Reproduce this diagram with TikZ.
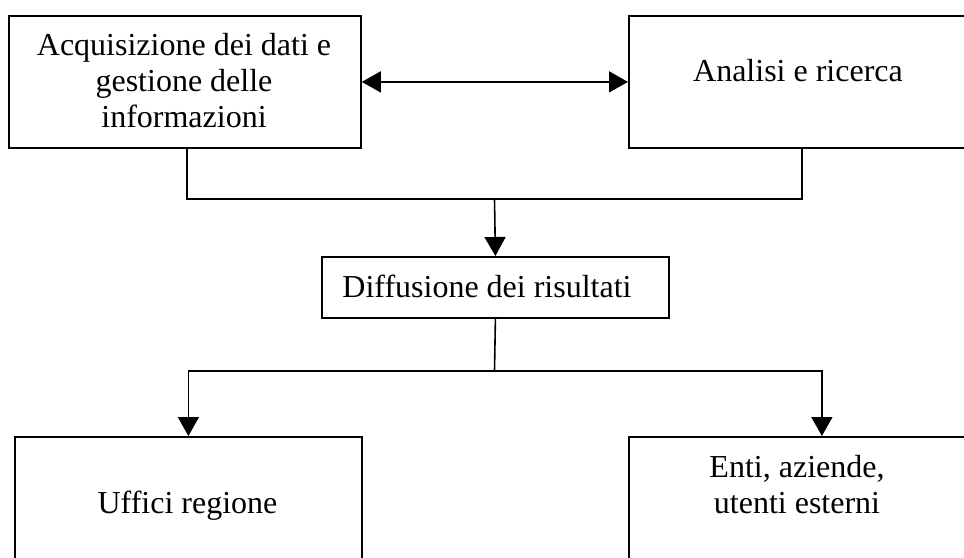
\documentclass[tikz,border=0pt]{standalone}
\usepackage{fontspec}
\setmainfont{Liberation Serif}
\usetikzlibrary{arrows.meta}
\begin{document}
\begin{tikzpicture}[x=1pt,y=1pt,
  box/.style={draw, line width=1.8pt, anchor=north west, inner sep=0pt},
  lbl/.style={font=\fontsize{32}{36}\selectfont, align=center, inner sep=0pt, anchor=base},
  link/.style={line width=1.6pt},
  tip/.style={-{Triangle[length=19pt,width=21pt]}},
  twotips/.style={{Triangle[length=19pt,width=21pt]}-{Triangle[length=19pt,width=21pt]}}]
\useasboundingbox (0,0) rectangle (964,-557);
\clip (0,0) rectangle (964,-557);
\fill[white] (0,0) rectangle (964,-557);

% boxes
\node[box, minimum width=352pt, minimum height=132pt] (acq) at (8,-15) {};
\node[box, minimum width=340pt, minimum height=132pt] (ana) at (628,-15) {};
\node[box, minimum width=347pt, minimum height=61pt] (dif) at (321,-256) {};
\node[box, minimum width=347pt, minimum height=140pt] (uff) at (14,-436) {};
\node[box, minimum width=340pt, minimum height=140pt] (ent) at (628,-436) {};

% labels (base anchor = baseline of the last line)
\node[lbl] (acqtxt) at (184,-127) {Acquisizione dei dati e\\gestione delle\\informazioni};
\node[lbl] (anatxt) at (798,-81) {Analisi e ricerca};
\node[lbl] (diftxt) at (487,-297) {Diffusione dei risultati};
\node[lbl] (ufftxt) at (187.5,-513) {Uffici regione};
\node[lbl] (enttxt) at (797,-513) {Enti, aziende,\\utenti esterni};

% connectors
\coordinate (j1) at (494.5,-199);
\coordinate (j2) at (494.5,-371);
\draw[link, twotips] (acq.east) -- (ana.west);
\draw[link] ([xshift=2pt]acq.south) |- (j1) -| ([xshift=3pt]ana.south);
\draw[link, tip] (j1) -- (dif.north);
\draw[link] (dif.south) -- (j2);
\draw[link, tip] (j2) -| (uff.north);
\draw[link, tip] (j2) -| ([xshift=23pt]ent.north);
\end{tikzpicture}
\end{document}
